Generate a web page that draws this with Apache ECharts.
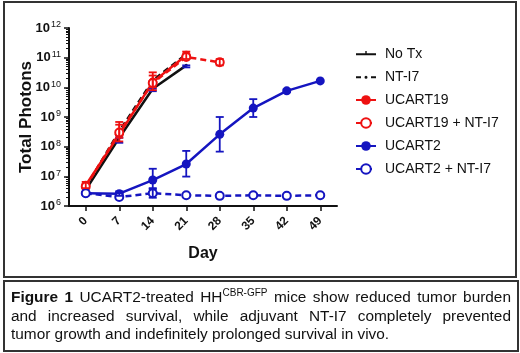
<!DOCTYPE html>
<html>
<head>
<meta charset="utf-8">
<script src="https://cdn.jsdelivr.net/npm/echarts@6/dist/echarts.min.js"></script>
<style>
  html, body { margin: 0; padding: 0; background: #fff; }
  #wrap { position: relative; width: 520px; height: 353px; overflow: hidden; }
  #frame { position: absolute; left: 3px; top: 1px; width: 510px; height: 273px; border: 2px solid #333; }
  #chart { position: absolute; left: 0; top: 0; width: 520px; height: 353px; }
  #caption {
    position: absolute; left: 3px; top: 280px; width: 500px; height: 62px;
    border: 2px solid #333; padding: 6px 6px 0 6px;
    font-family: "Liberation Sans", Arial, sans-serif; font-size: 15.4px; line-height: 18.5px; color: #111;
  }
  #caption .ln { text-align: justify; text-align-last: justify; white-space: nowrap; }
  #caption .ln.last { text-align-last: left; }
  #caption sup { font-size: 10px; vertical-align: 6px; line-height: 0; }
</style>
</head>
<body>
<div id="wrap">
  <div id="frame"></div>
  <div id="chart"></div>
  <div id="caption">
    <div class="ln"><b>Figure 1</b> UCART2-treated HH<sup>CBR-GFP</sup> mice show reduced tumor burden</div>
    <div class="ln">and increased survival, while adjuvant NT-I7 completely prevented</div>
    <div class="ln last">tumor growth and indefinitely prolonged survival in vivo.</div>
  </div>
</div>
<script>
// days measured
const days = [0, 7, 14, 21, 28, 35, 42, 49];
const yTicks = [1e6, 1e7, 1e8, 1e9, 1e10, 1e11, 1e12];

// series means (total photons)
const noTx = [3.5e6, 2.0e8, 9.0e9, 5.5e10];
const ntI7 = [4.2e6, 3.3e8, 1.7e10, 1.3e11];
const ucart19 = [5.0e6, 2.6e8, 1.5e10, 1.2e11];
const ucart19Nt = [4.5e6, 3.0e8, 1.4e10, 1.05e11, 7.0e10];
const ucart2 = [2.7e6, 2.6e6, 7.5e6, 2.6e7, 2.6e8, 2.0e9, 7.6e9, 1.65e10];
const ucart2Nt = [2.7e6, 2.0e6, 2.7e6, 2.3e6, 2.2e6, 2.3e6, 2.2e6, 2.3e6];

// error bars: [day, low, high]
const noTxErr = [[7, 1.35e8, 2.0e8], [14, 7.4e9, 9.0e9], [21, 4.7e10, 5.5e10]];
const ucart19Err = [[0, 4.0e6, 6.5e6], [7, 1.5e8, 5.5e8], [14, 8.0e9, 2.5e10], [21, 9.0e10, 1.6e11]];
const ucart19NtErr = [[7, 2.0e8, 6.8e8], [14, 1.0e10, 3.2e10], [28, 5.5e10, 9.0e10]];
const ucart2Err = [[7, 2.2e6, 3.1e6], [14, 4.0e6, 1.8e7], [21, 9.8e6, 7.2e7], [28, 6.8e7, 1.0e9], [35, 1.0e9, 4.0e9], [42, 6.8e9, 8.6e9]];
const ucart2NtErr = [[14, 1.9e6, 3.7e6]];

const RED = '#ee1111';
const BLUE = '#1515c0';
const FONT = '"Liberation Sans", Arial, sans-serif';

// legend marks for the black groups: line with small tick / dashed line with small dot
const TICK_ICON = 'path://M0,0 M20,12 M0,5.2 L20,5.2 L20,7.2 L0,7.2 Z M9.3,3 L10.7,3 L10.7,6 L9.3,6 Z';
const DOT_ICON = 'path://M0,0 M20,12 M0,5.2 L5,5.2 L5,7.2 L0,7.2 Z M15,5.2 L20,5.2 L20,7.2 L15,7.2 Z '
    + 'M10,4.7 A1.5,1.5 0 1 1 10,7.7 A1.5,1.5 0 1 1 10,4.7 Z';

const minorTicks = [];
for (let e = 6; e < 12; e++) {
    for (let m = 2; m <= 9; m++) minorTicks.push(m * Math.pow(10, e));
}

const pairs = vals => vals.map((v, i) => [days[i], v]);

const lineSeries = (name, vals, color, dashed, symbol, size) => ({
    name: name,
    type: 'line',
    data: pairs(vals),
    symbol: symbol,
    symbolSize: size,
    showSymbol: true,
    lineStyle: { color: color, width: 2.5, type: dashed ? [6, 4] : 'solid' },
    itemStyle: symbol === 'emptyCircle'
        ? { color: color, borderColor: color, borderWidth: 2 }
        : { color: color },
    emphasis: { disabled: true },
    z: 3
});

const errSeries = (data, color) => ({
    type: 'custom',
    data: data,
    encode: { x: 0, y: [1, 2] },
    silent: true,
    z: 4,
    renderItem: (params, api) => {
        const x = api.value(0);
        const lo = api.coord([x, api.value(1)]);
        const hi = api.coord([x, api.value(2)]);
        const w = 4;
        const st = { stroke: color, lineWidth: 1.8 };
        return {
            type: 'group',
            children: [
                { type: 'line', shape: { x1: lo[0], y1: lo[1], x2: hi[0], y2: hi[1] }, style: st },
                { type: 'line', shape: { x1: hi[0] - w, y1: hi[1], x2: hi[0] + w, y2: hi[1] }, style: st },
                { type: 'line', shape: { x1: lo[0] - w, y1: lo[1], x2: lo[0] + w, y2: lo[1] }, style: st }
            ]
        };
    }
});

const chart = echarts.init(document.getElementById('chart'));
chart.setOption({
    animation: false,
    textStyle: { fontFamily: FONT },
    grid: { left: 69, right: 183, top: 28, bottom: 147 },
    legend: {
        data: [
            { name: 'No Tx', icon: TICK_ICON },
            { name: 'NT-I7', icon: DOT_ICON },
            'UCART19', 'UCART19 + NT-I7', 'UCART2', 'UCART2 + NT-I7'
        ],
        orient: 'vertical',
        left: 350,
        top: 42,
        itemWidth: 20,
        itemHeight: 12,
        itemGap: 9,
        selectedMode: false,
        textStyle: { fontFamily: FONT, fontSize: 14, color: '#111', padding: [0, 0, 0, 4] }
    },
    xAxis: {
        type: 'value',
        min: -3.5,
        max: 52.5,
        name: 'Day',
        nameLocation: 'middle',
        nameGap: 40,
        nameMoveOverlap: false,
        nameTextStyle: { fontFamily: FONT, fontSize: 16, fontWeight: 'bold', color: '#111' },
        axisLine: { onZero: false, lineStyle: { color: '#111', width: 2 } },
        axisTick: { customValues: days, length: 5, lineStyle: { color: '#111', width: 1.5 } },
        axisLabel: {
            customValues: days,
            rotate: 45,
            margin: 13,
            fontFamily: FONT,
            fontSize: 12,
            fontWeight: 'bold',
            color: '#111'
        },
        splitLine: { show: false }
    },
    yAxis: [
        {
            type: 'log',
            logBase: 10,
            min: 1e6,
            max: 1e12,
            name: 'Total Photons',
            nameLocation: 'middle',
            nameRotate: 90,
            nameGap: 34.5,
            nameMoveOverlap: false,
            nameTextStyle: { fontFamily: FONT, fontSize: 17, fontWeight: 'bold', color: '#111' },
            axisLine: { show: true, onZero: false, lineStyle: { color: '#111', width: 2 } },
            axisTick: { show: true, customValues: yTicks, length: 5, lineStyle: { color: '#111', width: 1.5 } },
            axisLabel: {
                customValues: yTicks,
                margin: 8,
                formatter: v => '{b|10}{s|' + Math.round(Math.log10(v)) + '}',
                rich: {
                    b: { fontFamily: FONT, fontSize: 13, fontWeight: 'bold', color: '#111' },
                    s: { fontFamily: FONT, fontSize: 9, color: '#111', verticalAlign: 'top', padding: [0, 0, 6, 1] }
                }
            },
            splitLine: { show: false }
        },
        {
            type: 'log',
            logBase: 10,
            min: 1e6,
            max: 1e12,
            position: 'left',
            axisLine: { show: false, onZero: false },
            axisTick: { show: true, customValues: minorTicks, length: 3, lineStyle: { color: '#111', width: 1 } },
            axisLabel: { show: false },
            splitLine: { show: false }
        }
    ],
    series: [
        lineSeries('No Tx', noTx, '#111', false, 'circle', 3),
        lineSeries('NT-I7', ntI7, '#111', true, 'circle', 4),
        errSeries(noTxErr, BLUE),
        errSeries(ucart19Err, RED),
        errSeries(ucart19NtErr, RED),
        lineSeries('UCART19', ucart19, RED, false, 'circle', 9),
        lineSeries('UCART19 + NT-I7', ucart19Nt, RED, true, 'emptyCircle', 8),
        errSeries(ucart2Err, BLUE),
        errSeries(ucart2NtErr, BLUE),
        lineSeries('UCART2', ucart2, BLUE, false, 'circle', 9),
        lineSeries('UCART2 + NT-I7', ucart2Nt, BLUE, true, 'emptyCircle', 8)
    ]
});
</script>
</body>
</html>
